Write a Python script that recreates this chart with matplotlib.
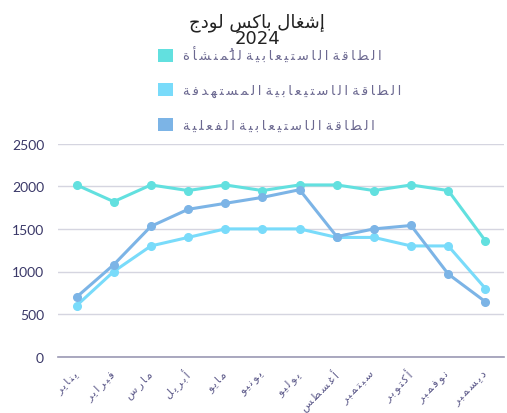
import unicodedata
import matplotlib
matplotlib.use("Agg")
from matplotlib import pyplot as plt
from matplotlib.patches import Patch

# data
months = ["يناير", "فبراير", "مارس", "أبريل", "مايو", "يونيو",
          "يوليو", "أغسطس", "سبتمبر", "أكتوبر", "نوفمبر", "ديسمبر"]
series_names = ["الطاقة الاستيعابية للمُنشأة",
                "الطاقة الاستيعابية المستهدفة",
                "الطاقة الاستيعابية الفعلية"]
facility = [2016, 1820, 2016, 1950, 2016, 1950, 2016, 2016, 1950, 2016, 1950, 1360]
target = [600, 1000, 1300, 1400, 1500, 1500, 1500, 1400, 1400, 1300, 1300, 800]
actual = [700, 1080, 1530, 1730, 1800, 1870, 1960, 1410, 1500, 1540, 970, 645]
title_ar = "إشغال باكس لودج"
title_year = "2024"

colors = ["#62e0df", "#79dbfa", "#7cb4e6"]

# presentation forms: isolated, final, initial, medial (None = letter does not join to the next)
forms = {
    "ا": (0xFE8D, 0xFE8E, None, None),
    "أ": (0xFE83, 0xFE84, None, None),
    "إ": (0xFE87, 0xFE88, None, None),
    "ة": (0xFE93, 0xFE94, None, None),
    "د": (0xFEA9, 0xFEAA, None, None),
    "ر": (0xFEAD, 0xFEAE, None, None),
    "و": (0xFEED, 0xFEEE, None, None),
    "ب": (0xFE8F, 0xFE90, 0xFE91, 0xFE92),
    "ت": (0xFE95, 0xFE96, 0xFE97, 0xFE98),
    "ج": (0xFE9D, 0xFE9E, 0xFE9F, 0xFEA0),
    "س": (0xFEB1, 0xFEB2, 0xFEB3, 0xFEB4),
    "ش": (0xFEB5, 0xFEB6, 0xFEB7, 0xFEB8),
    "ط": (0xFEC1, 0xFEC2, 0xFEC3, 0xFEC4),
    "ع": (0xFEC9, 0xFECA, 0xFECB, 0xFECC),
    "غ": (0xFECD, 0xFECE, 0xFECF, 0xFED0),
    "ف": (0xFED1, 0xFED2, 0xFED3, 0xFED4),
    "ق": (0xFED5, 0xFED6, 0xFED7, 0xFED8),
    "ك": (0xFED9, 0xFEDA, 0xFEDB, 0xFEDC),
    "ل": (0xFEDD, 0xFEDE, 0xFEDF, 0xFEE0),
    "م": (0xFEE1, 0xFEE2, 0xFEE3, 0xFEE4),
    "ن": (0xFEE5, 0xFEE6, 0xFEE7, 0xFEE8),
    "ه": (0xFEE9, 0xFEEA, 0xFEEB, 0xFEEC),
    "ي": (0xFEF1, 0xFEF2, 0xFEF3, 0xFEF4),
}


def shape(s, gap=""):
    # matplotlib has no arabic shaping/bidi: pick the joined forms by hand,
    # then lay the letters out right to left (marks stay on their letter)
    letters = []
    for ch in s:
        if unicodedata.combining(ch) and letters:
            letters[-1][1] += ch
        else:
            letters.append([ch, ""])
    out = []
    for i, (ch, mark) in enumerate(letters):
        if ch not in forms:
            out.append(ch + mark)
            continue
        prev = letters[i - 1][0] if i > 0 else ""
        nxt = letters[i + 1][0] if i + 1 < len(letters) else ""
        jp = prev in forms and forms[prev][2] is not None
        jn = forms[ch][2] is not None and nxt in forms
        f = forms[ch]
        code = f[3] if (jp and jn) else f[1] if jp else f[2] if jn else f[0]
        out.append(chr(code) + mark)
    out = out[::-1]
    if not gap:
        return "".join(out)
    res = ""
    for i, g in enumerate(out):
        res += g
        if i + 1 < len(out) and g != " " and out[i + 1] != " ":
            res += gap
    return res


fig = plt.figure(figsize=(5.07, 4.14), dpi=100)
ax = fig.add_axes([58 / 507, 1 - 357.7 / 414, 446 / 507, 213 / 414])

x = list(range(len(months)))
for vals, c in zip([facility, target, actual], colors):
    ax.plot(x, vals, color=c, lw=2.2, marker="o", ms=5.5, zorder=3)

ax.set_xlim(-0.5, len(months) - 0.5)
ax.set_ylim(0, 2500)
ax.set_yticks([0, 500, 1000, 1500, 2000, 2500])
ax.grid(axis="y", color="#d5d5e0", lw=1)
ax.set_axisbelow(True)
for s in ["top", "right", "left"]:
    ax.spines[s].set_visible(False)
ax.spines["bottom"].set_color("#9b99b4")
ax.spines["bottom"].set_linewidth(1.2)
ax.tick_params(axis="y", length=0, pad=10, labelsize=10, labelcolor="#3a3868")
ax.tick_params(axis="x", length=0, pad=11)
for lab in ax.get_yticklabels():
    lab.set_family("Lato")
ax.set_xticks(x)
ax.set_xticklabels([shape(m, "\u2009") for m in months], rotation=45, ha="right",
                   va="center", rotation_mode="anchor", fontsize=7.8,
                   color="#5d5a8a", family="DejaVu Sans")

fig.text(257 / 507, 1 - 27 / 414, shape(title_ar), ha="center", va="baseline",
         fontsize=13, color="#222222", family="DejaVu Sans")
fig.text(257 / 507, 1 - 44 / 414, title_year, ha="center", va="baseline",
         fontsize=13, color="#222222", family="DejaVu Sans")

handles = [Patch(facecolor=c, edgecolor="none") for c in colors]
fig.legend(handles, [shape(n, "\u2009") for n in series_names], loc="upper left",
           bbox_to_anchor=(158 / 507, 1 - 47.5 / 414), frameon=False,
           borderpad=0, borderaxespad=0, handlelength=1.15, handleheight=1.15,
           handletextpad=0.75, labelspacing=1.55,
           prop={"family": "DejaVu Sans", "size": 9.5}, labelcolor="#6b6890")

fig.savefig("out.png", dpi=100)
